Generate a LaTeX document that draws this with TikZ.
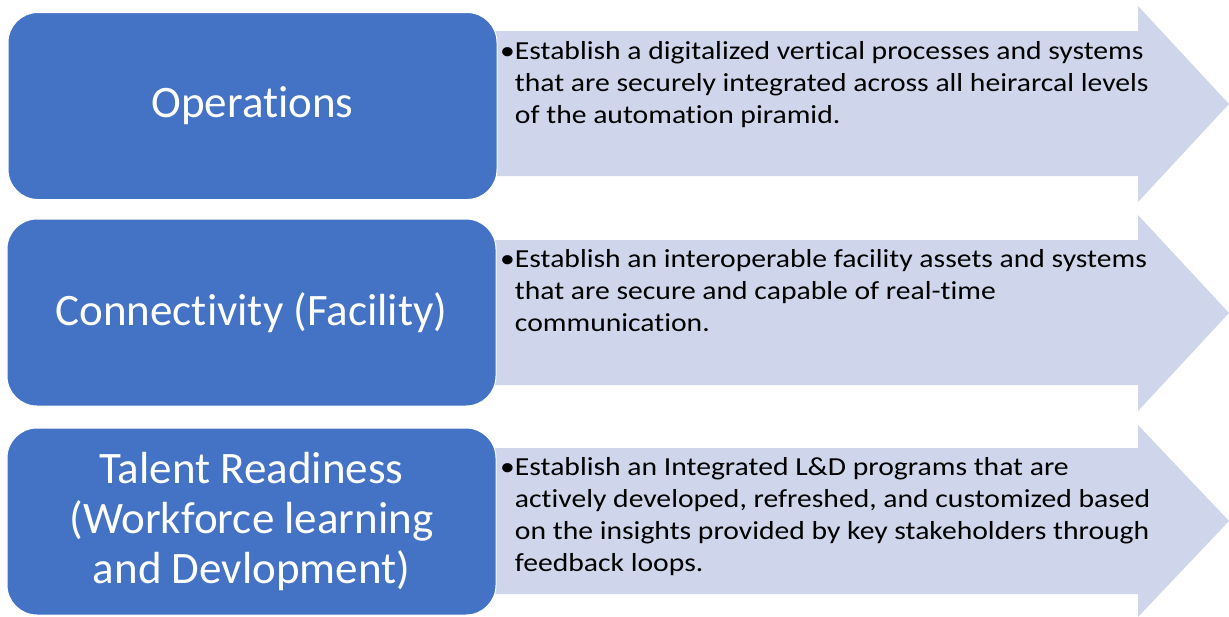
\documentclass[tikz,border=0pt]{standalone}
\usepackage{fontspec}
\setmainfont{Carlito}[Ligatures=NoCommon]
\newfontfamily\aimfont{Carlito}[Ligatures=NoCommon, FakeStretch=1.14]
\usetikzlibrary{positioning}
\definecolor{boxblue}{HTML}{4472C4}
\definecolor{bandfill}{HTML}{CFD5EA}

\begin{document}
\begin{tikzpicture}[x=1pt, y=-1pt,
            goal/.style={draw=white, line width=1pt, rounded corners=30pt, fill=boxblue, text=white,
                         minimum width=489pt, minimum height=187pt, inner sep=0pt, align=center,
                         font=\fontsize{45}{50}\selectfont},
            aim/.style={anchor=north west, inner sep=0pt, align=left, font=\aimfont\fontsize{26}{32}\selectfont},
            band/.style={fill=bandfill}]

            \useasboundingbox (0,0) rectangle (1229,616);

            \fill[band] (480,31) -- (1138,31) -- (1138,6) -- (1229,104) -- (1138,202) -- (1138,176) -- (480,176) -- cycle;
            \fill[band] (480,240) -- (1138,240) -- (1138,215) -- (1229,313) -- (1138,411) -- (1138,385) -- (480,385) -- cycle;
            \fill[band] (480,448) -- (1138,448) -- (1138,425) -- (1229,521) -- (1138,617) -- (1138,594) -- (480,594) -- cycle;

            \node[goal] (ops) at (252.5,106) {Operations};
            \node[goal] (conn) at (251.5,312.5) {Connectivity (Facility)};
            \node[goal] (talent) at (251.5,521.5) {Talent Readiness\\(Workforce learning\\and Devlopment)};

            \node[aim] (opsaim) at (500,41) {\textbullet Establish a digitalized vertical processes and systems\\
                \phantom{\textbullet}that are securely integrated across all heirarcal levels\\
                \phantom{\textbullet}of the automation piramid.};
            \node[aim] (connaim) at (500,249) {\textbullet Establish an interoperable facility assets and systems\\
                \phantom{\textbullet}that are secure and capable of real-time\\
                \phantom{\textbullet}communication.};
            \node[aim] (talentaim) at (500,457) {\textbullet Establish an Integrated L\&D programs that are\\
                \phantom{\textbullet}actively developed, refreshed, and customized based\\
                \phantom{\textbullet}on the insights provided by key stakeholders through\\
                \phantom{\textbullet}feedback loops.};
        \end{tikzpicture}
\end{document}
